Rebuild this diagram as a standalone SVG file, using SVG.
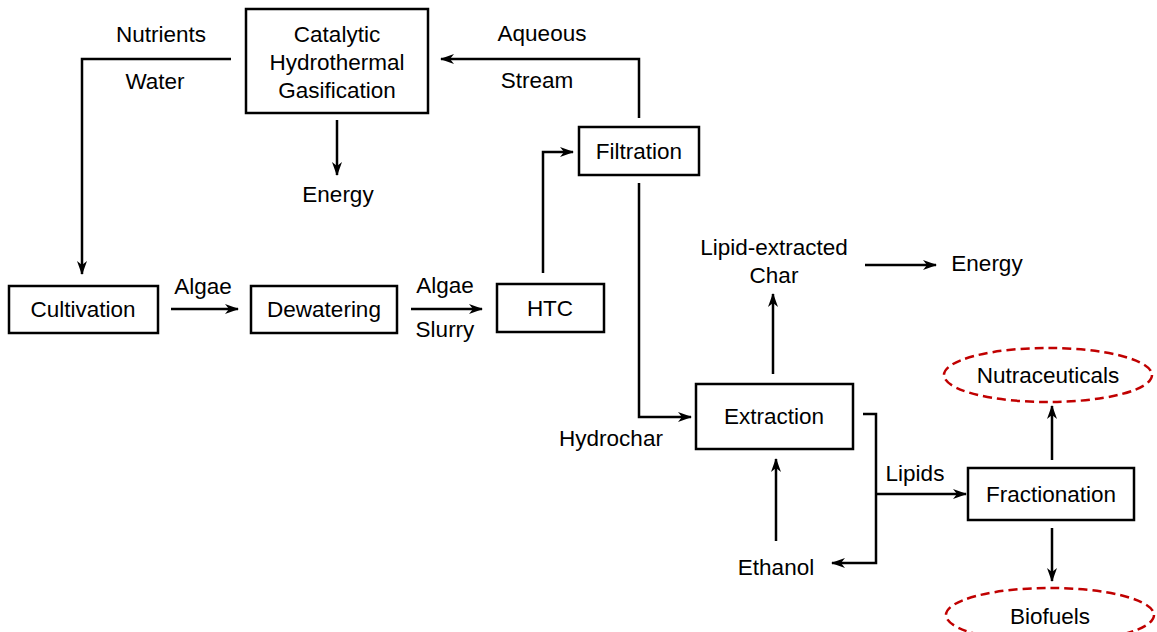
<svg xmlns="http://www.w3.org/2000/svg" width="1157" height="632" viewBox="0 0 1157 632">
<style>
.box{fill:#fff;stroke:#000;stroke-width:2.5}
.oval{fill:#fff;stroke:#c00000;stroke-width:2.5;stroke-dasharray:9 5}
.t{font-family:"Liberation Sans",Arial,sans-serif;font-size:22.5px;fill:#000;text-anchor:middle}
.c{fill:none;stroke:#000;stroke-width:2.5}
.a{marker-end:url(#ah)}
</style>
<defs>
<marker id="ah" markerWidth="14" markerHeight="10" refX="13" refY="5" orient="auto" markerUnits="userSpaceOnUse">
<path d="M0,0 L14,5 L0,10 L4,5 z" fill="#000"/>
</marker>
</defs>
<rect width="1157" height="632" fill="#fff"/>
<g id="connectors">
<polyline class="c a" points="231,59 82,59 82,274"/>
<line class="c a" x1="337" y1="120" x2="337" y2="175"/>
<polyline class="c a" points="639,118 639,59 441,59"/>
<polyline class="c a" points="543,273 543,152 573,152"/>
<polyline class="c a" points="639,183 639,417 691,417"/>
<line class="c a" x1="171" y1="309" x2="238" y2="309"/>
<line class="c a" x1="411" y1="309" x2="482" y2="309"/>
<line class="c a" x1="773" y1="374" x2="773" y2="294"/>
<line class="c a" x1="776" y1="541" x2="776" y2="459"/>
<line class="c a" x1="865" y1="265" x2="936" y2="265"/>
<polyline class="c a" points="863,414 876,414 876,563 832,563"/>
<line class="c a" x1="876" y1="494" x2="966" y2="494"/>
<line class="c a" x1="1052" y1="460" x2="1052" y2="406"/>
<line class="c a" x1="1052" y1="528" x2="1052" y2="581"/>
<text class="t" x="161" y="42">Nutrients</text>
<text class="t" x="155" y="89">Water</text>
<text class="t" x="338" y="202">Energy</text>
<text class="t" x="542" y="41">Aqueous</text>
<text class="t" x="537" y="88">Stream</text>
<text class="t" x="203" y="294">Algae</text>
<text class="t" x="445" y="293">Algae</text>
<text class="t" x="445" y="337">Slurry</text>
<text class="t" x="611" y="446">Hydrochar</text>
<text class="t" x="774" y="255">Lipid-extracted</text>
<text class="t" x="774" y="283">Char</text>
<text class="t" x="987" y="271">Energy</text>
<text class="t" x="776" y="575">Ethanol</text>
<text class="t" x="915" y="481">Lipids</text>
</g>
<g id="chg">
<rect class="box" x="246" y="9" width="182" height="104"/>
<text class="t" x="337" y="42">Catalytic</text>
<text class="t" x="337" y="70">Hydrothermal</text>
<text class="t" x="337" y="98">Gasification</text>
</g>
<g id="filtration">
<rect class="box" x="579" y="127" width="120" height="48"/>
<text class="t" x="639" y="159">Filtration</text>
</g>
<g id="cultivation">
<rect class="box" x="9" y="286" width="149" height="47"/>
<text class="t" x="83" y="317">Cultivation</text>
</g>
<g id="dewatering">
<rect class="box" x="251" y="286" width="146" height="47"/>
<text class="t" x="324" y="317">Dewatering</text>
</g>
<g id="htc">
<rect class="box" x="497" y="284" width="107" height="48"/>
<text class="t" x="550" y="316">HTC</text>
</g>
<g id="extraction">
<rect class="box" x="696" y="384" width="157" height="65"/>
<text class="t" x="774" y="424">Extraction</text>
</g>
<g id="fractionation">
<rect class="box" x="968" y="468" width="166" height="52"/>
<text class="t" x="1051" y="502">Fractionation</text>
</g>
<g id="nutraceuticals">
<ellipse class="oval" cx="1048" cy="375" rx="104" ry="27"/>
<text class="t" x="1048" y="383">Nutraceuticals</text>
</g>
<g id="biofuels">
<ellipse class="oval" cx="1050" cy="615" rx="104" ry="27"/>
<text class="t" x="1050" y="624">Biofuels</text>
</g>
</svg>
